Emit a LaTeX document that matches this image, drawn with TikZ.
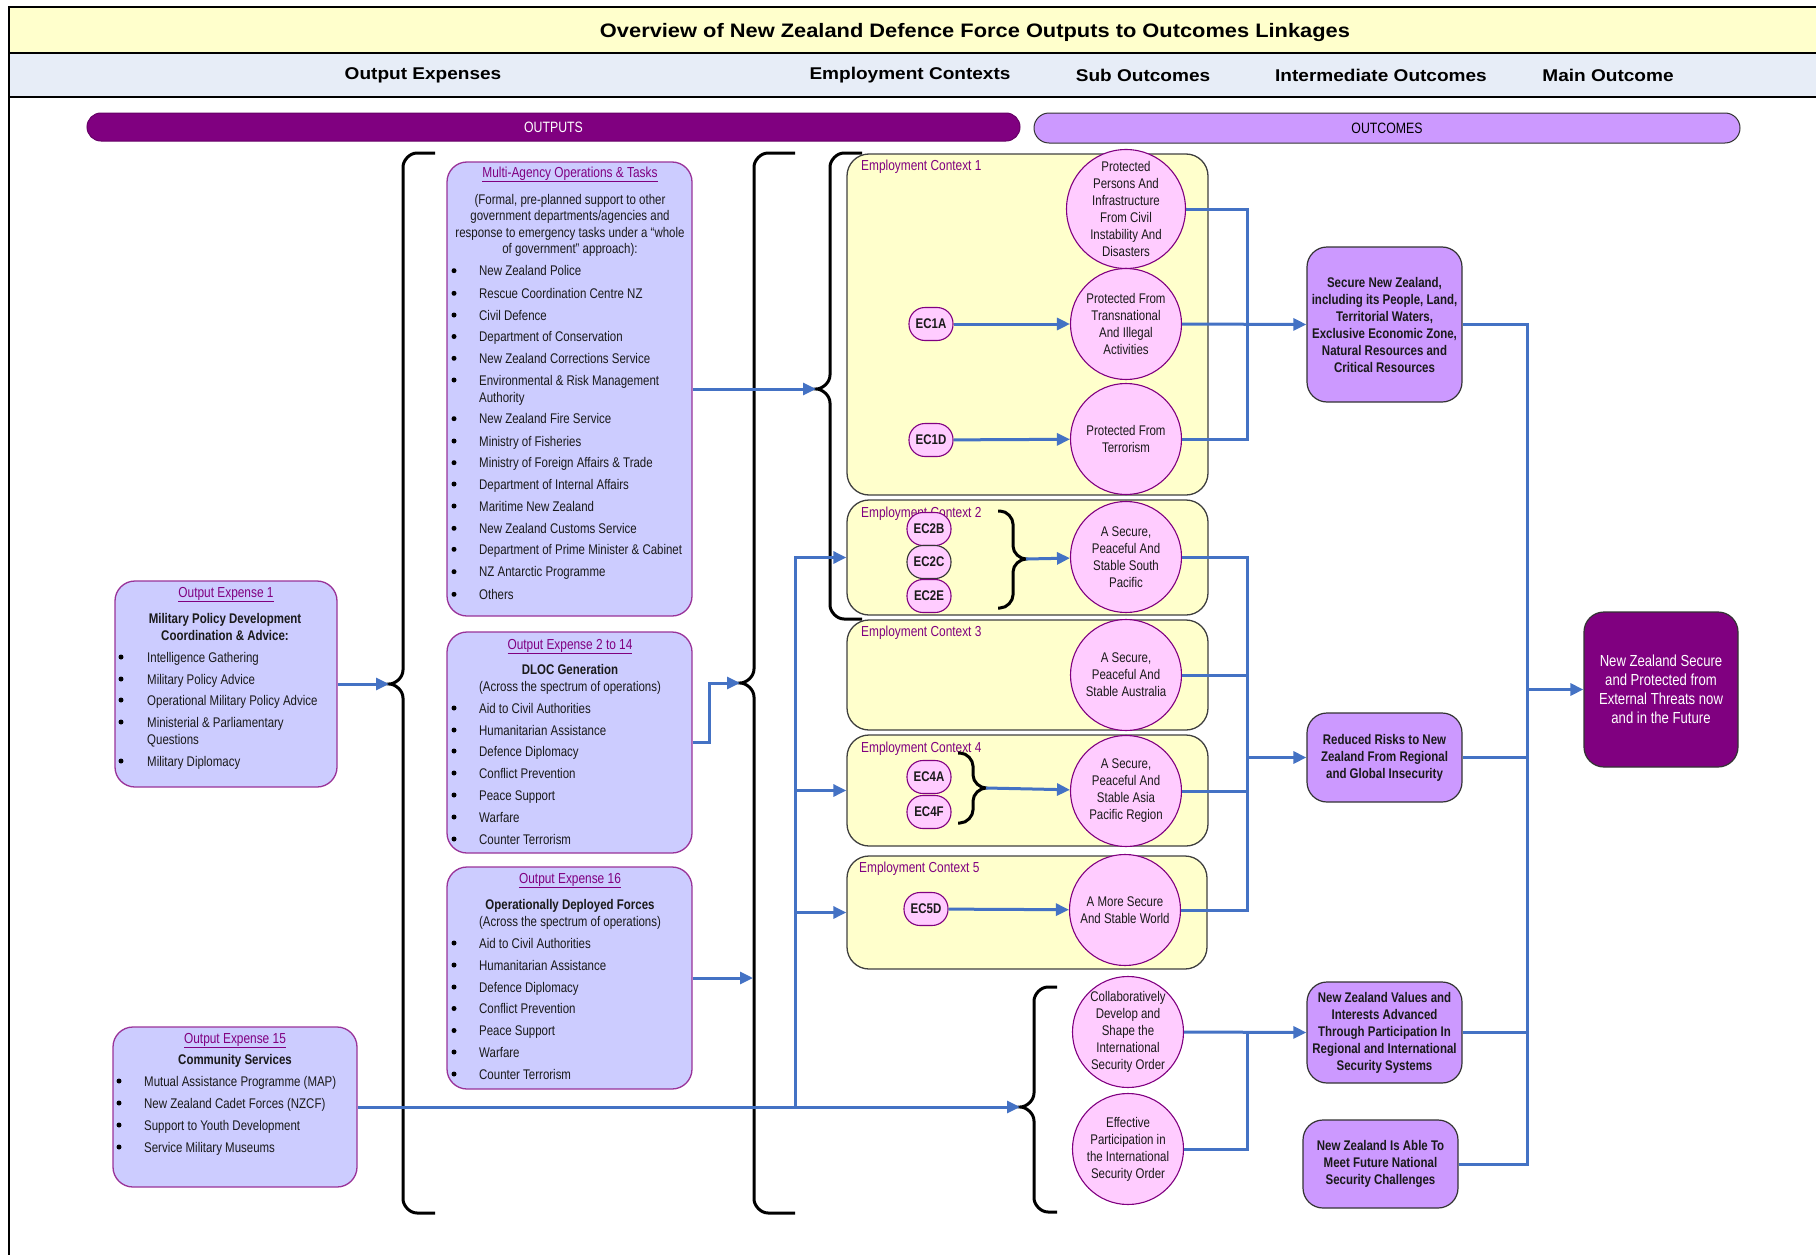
\documentclass[tikz,border=0pt]{standalone}
\usepackage{fontspec}
\setmainfont{Liberation Sans}[FakeStretch=0.82]
\newfontfamily\hfont{Liberation Sans}[FakeStretch=1.12]
\usetikzlibrary{arrows.meta}
\definecolor{nzpurple}{HTML}{800080}
\definecolor{oefill}{HTML}{CCCCFF}
\definecolor{oeborder}{HTML}{993399}
\definecolor{ecfill}{HTML}{FFFFCC}
\definecolor{cfill}{HTML}{FFCCFF}
\definecolor{ifill}{HTML}{CC99FF}
\definecolor{hdrfill}{HTML}{E7EDF7}
\definecolor{nzblue}{HTML}{4472C4}
\definecolor{txt}{HTML}{1A1A1A}
\newcommand{\fsz}[2]{\fontsize{#1pt}{#2pt}\selectfont}
\newcommand{\nzitem}[5]{\node[bdot] (#1d) at (#2,#4) {}; \node[itm] (#1) at (#3,#4) {#5};}
\newcommand{\nzcont}[4]{\node[itm] (#1) at (#2,#3) {#4};}
% left-pointing brace: vx, top, bottom, tipy, tailx, r
\newcommand{\nzbrL}[6]{\draw[brc] (#5,#2) -- ({#1+#6},#2) .. controls ({#1+0.45*#6},#2) and (#1,{#2+0.55*#6}) .. (#1,{#2+#6}) -- (#1,{#4-#6}) .. controls (#1,{#4-0.45*#6}) and ({#1-0.55*#6},#4) .. ({#1-#6},#4) .. controls ({#1-0.55*#6},#4) and (#1,{#4+0.45*#6}) .. (#1,{#4+#6}) -- (#1,{#3-#6}) .. controls (#1,{#3-0.55*#6}) and ({#1+0.45*#6},#3) .. ({#1+#6},#3) -- (#5,#3);}
% right-pointing brace
\newcommand{\nzbrR}[6]{\draw[brc] (#5,#2) -- ({#1-#6},#2) .. controls ({#1-0.45*#6},#2) and (#1,{#2+0.55*#6}) .. (#1,{#2+#6}) -- (#1,{#4-#6}) .. controls (#1,{#4-0.45*#6}) and ({#1+0.55*#6},#4) .. ({#1+#6},#4) .. controls ({#1+0.55*#6},#4) and (#1,{#4+0.45*#6}) .. (#1,{#4+#6}) -- (#1,{#3-#6}) .. controls (#1,{#3-0.55*#6}) and ({#1-0.45*#6},#3) .. ({#1-#6},#3) -- (#5,#3);}
\begin{document}
\begin{tikzpicture}[x=1pt,y=-1pt,
  conn/.style={draw=nzblue, line width=3pt},
  arr/.style={conn, -{Triangle[length=13pt,width=12pt]}},
  brc/.style={draw=black, line width=3pt},
  oebox/.style={draw=oeborder, fill=oefill, rounded corners=20pt, line width=1.3pt, inner sep=0pt},
  ecbox/.style={draw=black!75, fill=ecfill, rounded corners=22pt, line width=1.3pt, inner sep=0pt},
  subc/.style={circle, draw=nzpurple, fill=cfill, line width=1.1pt, minimum size=111pt, inner sep=0pt, align=center, font=\fsz{14}{17}, text=txt},
  ecid/.style={draw=nzpurple, fill=cfill, rounded corners=16pt, minimum width=44pt, minimum height=33pt, inner sep=0pt, line width=1.1pt, font=\bfseries\fsz{14}{17}, text=txt},
  ibox/.style={draw=black!80, fill=ifill, rounded corners=20pt, line width=1.2pt, align=center, font=\bfseries\fsz{14}{17}, inner sep=0pt, text=txt},
  mainbox/.style={draw=black!80, fill=nzpurple, text=white, rounded corners=20pt, line width=1.2pt, align=center, font=\fsz{16}{19}, inner sep=0pt},
  itm/.style={anchor=base west, inner sep=0pt, yshift=-5pt, font=\fsz{14}{17}, text=txt},
  ctr/.style={anchor=base, inner sep=0pt, yshift=-5pt, font=\fsz{14}{17}, text=txt},
  ttl/.style={ctr, text=nzpurple, font=\fsz{14.5}{17}},
  bld/.style={ctr, font=\bfseries\fsz{14}{17}},
  eclab/.style={anchor=base west, inner sep=0pt, yshift=-5pt, text=nzpurple, font=\fsz{14.5}{17}},
  hdr/.style={font=\hfont\bfseries\fsz{17}{20}, inner sep=0pt, text=black},
  bdot/.style={circle, fill=black, inner sep=0pt, minimum size=5pt}
]
\useasboundingbox (0,0) rectangle (1816,1255);
% ---------- top bands ----------
\fill[ecfill] (9,7) rectangle (1816,53);
\fill[hdrfill] (9,53) rectangle (1816,97);
\draw[line width=1.3pt] (1816,7) -- (9,7) -- (9,1255);
\draw[line width=1.3pt] (9,53) -- (1816,53);
\draw[line width=1.3pt] (9,97) -- (1816,97);
\node[font=\hfont\bfseries\fsz{19.5}{22}, inner sep=0pt] (title) at (975,33) {Overview of New Zealand Defence Force Outputs to Outcomes Linkages};
\node[hdr] (h1) at (423,75) {Output Expenses};
\node[hdr] (h2) at (910,75) {Employment Contexts};
\node[hdr] (h3) at (1143,75) {Sub Outcomes};
\node[hdr] (h4) at (1381,75) {Intermediate Outcomes};
\node[hdr] (h5) at (1608,75) {Main Outcome};
\node[draw=nzpurple!80!black, fill=nzpurple, rounded corners=14pt, minimum width=933pt, minimum height=28pt, text=white, font=\fsz{15}{17}, line width=1pt] (outputs) at (553.5,127) {OUTPUTS};
\node[draw=black!80, fill=ifill, rounded corners=15pt, minimum width=706pt, minimum height=30pt, text=black, font=\fsz{15}{17}, line width=1pt] (outcomes) at (1387,128) {OUTCOMES};
% ---------- braces ----------
\nzbrL{403}{153}{1213}{684}{435}{14}
\nzbrL{754}{153}{1213}{683}{795}{14}
\nzbrL{830}{153}{619}{389}{862}{14}
\nzbrL{1034}{987}{1212}{1107}{1057}{14}
\coordinate (b1tip) at (389,684);
\coordinate (b2tip) at (740,683);
\coordinate (b2mid) at (753,978);
\coordinate (b3tip) at (816,389);
\coordinate (b4tip) at (1020,1107);
% ---------- output expense boxes ----------
\node[oebox, minimum width=222pt, minimum height=206pt] (oe1) at (226,684) {};
\node[ttl] (oe1t) at (226,592) {\underline{Output Expense 1}};
\node[bld] (oe1h1) at (225,618) {Military Policy Development};
\node[bld] (oe1h2) at (225,635) {Coordination \& Advice:};
\nzitem{oe1a}{121}{147}{657}{Intelligence Gathering}
\nzitem{oe1b}{121}{147}{679}{Military Policy Advice}
\nzitem{oe1c}{121}{147}{700}{Operational Military Policy Advice}
\nzitem{oe1e}{121}{147}{722}{Ministerial \& Parliamentary}
\nzcont{oe1f}{147}{739}{Questions}
\nzitem{oe1g}{121}{147}{761}{Military Diplomacy}

\node[oebox, minimum width=245pt, minimum height=454pt] (ma) at (569.5,389) {};
\node[ttl] (mat) at (570,172) {\underline{Multi-Agency Operations \& Tasks}};
\node[ctr] (map1) at (570,199) {(Formal, pre-planned support to other};
\node[ctr] (map2) at (570,215.5) {government departments/agencies and};
\node[ctr] (map3) at (570,232) {response to emergency tasks under a “whole};
\node[ctr] (map4) at (570,248.5) {of government” approach):};
\nzitem{ma1}{454}{479}{270.7}{New Zealand Police}
\nzitem{ma2}{454}{479}{293.3}{Rescue Coordination Centre NZ}
\nzitem{ma3}{454}{479}{315}{Civil Defence}
\nzitem{ma4}{454}{479}{336.5}{Department of Conservation}
\nzitem{ma5}{454}{479}{358.3}{New Zealand Corrections Service}
\nzitem{ma6}{454}{479}{380}{Environmental \& Risk Management}
\nzcont{ma6b}{479}{397.3}{Authority}
\nzitem{ma7}{454}{479}{418.7}{New Zealand Fire Service}
\nzitem{ma8}{454}{479}{441}{Ministry of Fisheries}
\nzitem{ma9}{454}{479}{462.7}{Ministry of Foreign Affairs \& Trade}
\nzitem{ma10}{454}{479}{484}{Department of Internal Affairs}
\nzitem{ma11}{454}{479}{506}{Maritime New Zealand}
\nzitem{ma12}{454}{479}{528.3}{New Zealand Customs Service}
\nzitem{ma13}{454}{479}{549.3}{Department of Prime Minister \& Cabinet}
\nzitem{ma14}{454}{479}{571.7}{NZ Antarctic Programme}
\nzitem{ma15}{454}{479}{594.3}{Others}

\node[oebox, minimum width=245pt, minimum height=221pt] (oe2) at (569.5,742.5) {};
\node[ttl] (oe2t) at (570,644) {\underline{Output Expense 2 to 14}};
\node[bld] (oe2h1) at (570,669) {DLOC Generation};
\node[ctr] (oe2h2) at (570,686) {(Across the spectrum of operations)};
\nzitem{oe2a}{454}{479}{708}{Aid to Civil Authorities}
\nzitem{oe2b}{454}{479}{730}{Humanitarian Assistance}
\nzitem{oe2c}{454}{479}{751}{Defence Diplomacy}
\nzitem{oe2e}{454}{479}{773}{Conflict Prevention}
\nzitem{oe2f}{454}{479}{795}{Peace Support}
\nzitem{oe2g}{454}{479}{817}{Warfare}
\nzitem{oe2h}{454}{479}{839}{Counter Terrorism}

\node[oebox, minimum width=245pt, minimum height=222pt] (oe16) at (569.5,978) {};
\node[ttl] (oe16t) at (570,878) {\underline{Output Expense 16}};
\node[bld] (oe16h1) at (570,904) {Operationally Deployed Forces};
\node[ctr] (oe16h2) at (570,921.5) {(Across the spectrum of operations)};
\nzitem{oe16a}{454}{479}{943}{Aid to Civil Authorities}
\nzitem{oe16b}{454}{479}{965}{Humanitarian Assistance}
\nzitem{oe16c}{454}{479}{987}{Defence Diplomacy}
\nzitem{oe16e}{454}{479}{1008.5}{Conflict Prevention}
\nzitem{oe16f}{454}{479}{1030.5}{Peace Support}
\nzitem{oe16g}{454}{479}{1052}{Warfare}
\nzitem{oe16h}{454}{479}{1074}{Counter Terrorism}

\node[oebox, minimum width=244pt, minimum height=160pt] (oe15) at (235,1107) {};
\node[ttl] (oe15t) at (235,1038) {\underline{Output Expense 15}};
\node[bld] (oe15h1) at (235,1059) {Community Services};
\nzitem{oe15a}{119}{144}{1081}{Mutual Assistance Programme (MAP)}
\nzitem{oe15b}{119}{144}{1103}{New Zealand Cadet Forces (NZCF)}
\nzitem{oe15c}{119}{144}{1125}{Support to Youth Development}
\nzitem{oe15e}{119}{144}{1147}{Service Military Museums}
% ---------- employment contexts ----------
\node[ecbox, minimum width=361pt, minimum height=341pt] (ec1) at (1027.5,324.5) {};
\node[ecbox, minimum width=361pt, minimum height=115pt] (ec2) at (1027.5,557.5) {};
\node[ecbox, minimum width=361pt, minimum height=110pt] (ec3) at (1027.5,675) {};
\node[ecbox, minimum width=361pt, minimum height=111pt] (ec4) at (1027.5,790.5) {};
\node[ecbox, minimum width=360pt, minimum height=113pt] (ec5) at (1027,912.5) {};
\node[eclab] (ec1l) at (861,165) {Employment Context 1};
\node[eclab] (ec2l) at (861,512) {Employment Context 2};
\node[eclab] (ec3l) at (861,631) {Employment Context 3};
\node[eclab] (ec4l) at (861,747) {Employment Context 4};
\node[eclab] (ec5l) at (859,867) {Employment Context 5};
% sub outcome circles
\node[subc] (c11) at (1126,209) {Protected\\Persons And\\Infrastructure\\From Civil\\Instability And\\Disasters};
\node[subc] (c12) at (1126,324) {Protected From\\Transnational\\And Illegal\\Activities};
\node[subc] (c13) at (1126,439) {Protected From\\Terrorism};
\node[subc] (c2) at (1126,557) {A Secure,\\Peaceful And\\Stable South\\Pacific};
\node[subc] (c3) at (1126,675) {A Secure,\\Peaceful And\\Stable Australia};
\node[subc] (c4) at (1126,791) {A Secure,\\Peaceful And\\Stable Asia\\Pacific Region};
\node[subc] (c5) at (1125,910) {A More Secure\\And Stable World};
\node[subc] (c6) at (1128,1032) {Collaboratively\\Develop and\\Shape the\\International\\Security Order};
\node[subc] (c7) at (1128,1149) {Effective\\Participation in\\the International\\Security Order};
% EC ids
\node[ecid] (ec1a) at (931,324) {EC1A};
\node[ecid] (ec1d) at (931,440) {EC1D};
\node[ecid] (ec2b) at (929,529) {EC2B};
\node[ecid, draw=black!80] (ec2c) at (929,562) {EC2C};
\node[ecid] (ec2e) at (929,596) {EC2E};
\node[ecid] (ec4a) at (929,777) {EC4A};
\node[ecid] (ec4f) at (929,812) {EC4F};
\node[ecid] (ec5d) at (926,909) {EC5D};
\nzbrR{1013}{511}{608}{559}{998}{13}
\nzbrR{973}{753}{823}{788}{958}{13}
\coordinate (b5tip) at (1026,559);
\coordinate (b6tip) at (986,788);
% ---------- intermediate and main outcomes ----------
\node[ibox, minimum width=155pt, minimum height=155pt] (i1) at (1384.5,324.5) {Secure New Zealand,\\including its People, Land,\\Territorial Waters,\\Exclusive Economic Zone,\\Natural Resources and\\Critical Resources};
\node[ibox, minimum width=155pt, minimum height=89pt] (i2) at (1384.5,757.5) {Reduced Risks to New\\Zealand From Regional\\and Global Insecurity};
\node[ibox, minimum width=155pt, minimum height=101pt] (i3) at (1384.5,1032.5) {New Zealand Values and\\Interests Advanced\\Through Participation In\\Regional and International\\Security Systems};
\node[ibox, minimum width=155pt, minimum height=88pt] (i4) at (1380.5,1164) {New Zealand Is Able To\\Meet Future National\\Security Challenges};
\node[mainbox, minimum width=154pt, minimum height=155pt] (main) at (1661,689.5) {New Zealand Secure\\and Protected from\\External Threats now\\and in the Future};
% ---------- connectors ----------
\draw[arr] (oe1.east) -- (b1tip);
\draw[arr] (ma.east |- b3tip) -- (b3tip);
\draw[arr] (oe2.east) -- ++(17,0) |- (b2tip);
\draw[arr] (oe16.east) -- (b2mid);
\coordinate (j0) at (795,1107);
\draw[arr] (oe15.east) -- (b4tip);
\draw[arr] (j0) |- (ec2.west);
\draw[arr] (j0 |- ec4.west) -- (ec4.west);
\draw[arr] (j0 |- ec5.west) -- (ec5.west);
\draw[arr] (ec1a) -- (c12);
\draw[arr] (ec1d) -- (c13);
\draw[arr] (b5tip) -- (c2);
\draw[arr] (b6tip) -- (c4);
\draw[arr] (ec5d) -- (c5);
\coordinate (j1) at (1247,324);
\coordinate (j2) at (1247,757.5);
\coordinate (j3) at (1247,1032);
\coordinate (j4) at (1527,689.5);
\draw[conn] (c11.east) -| (j1) |- (c13.east);
\draw[arr] (c12.east) -- (i1.west);
\draw[conn] (c2.east) -| (j2) |- (c5.east);
\draw[conn] (c3.east) -- (c3.east -| j2);
\draw[conn] (c4.east) -- (c4.east -| j2);
\draw[arr] (j2) -- (i2.west);
\draw[arr] (c6.east) -- (i3.west);
\draw[conn] (c7.east) -| (j3);
\draw[conn] (i1.east) -| (j4) |- (i4.east);
\draw[conn] (i2.east) -- (i2.east -| j4);
\draw[conn] (i3.east) -- (i3.east -| j4);
\draw[arr] (j4) -- (main.west);
\end{tikzpicture}
\end{document}
